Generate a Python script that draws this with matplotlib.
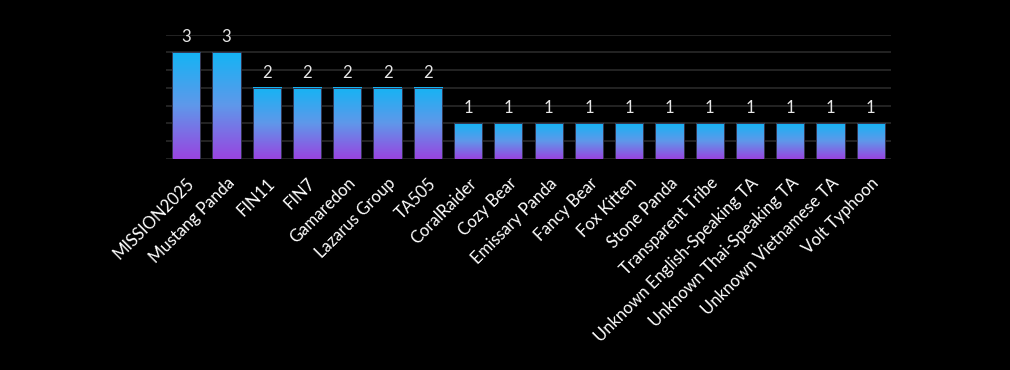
import numpy as np
import matplotlib
matplotlib.use("Agg")
import matplotlib.pyplot as plt
from matplotlib.colors import LinearSegmentedColormap

actors = ["MISSION2025", "Mustang Panda", "FIN11", "FIN7", "Gamaredon",
          "Lazarus Group", "TA505", "CoralRaider", "Cozy Bear", "Emissary Panda",
          "Fancy Bear", "Fox Kitten", "Stone Panda", "Transparent Tribe",
          "Unknown English-Speaking TA", "Unknown Thai-Speaking TA",
          "Unknown Vietnamese TA", "Volt Typhoon"]
counts = [3, 3, 2, 2, 2, 2, 2, 1, 1, 1, 1, 1, 1, 1, 1, 1, 1, 1]

plt.rcParams['font.family'] = ['Lato', 'DejaVu Sans']

# degradado de arriba (cian) hacia abajo (morado)
grad = LinearSegmentedColormap.from_list("grad", ["#9944e0", "#5f98ea", "#14b4f4"])

fig = plt.figure(figsize=(10.1, 3.7), dpi=100, facecolor="black")
ax = fig.add_axes([166/1010, 1 - 159/370, 725/1010, 124.5/370])
ax.set_facecolor("black")

x = np.arange(len(actors))
ancho = 0.7
barras = ax.bar(x, counts, width=ancho, color="none", edgecolor="none", zorder=3)

columna = np.linspace(0, 1, 256).reshape(-1, 1)
for b in barras:
    x0, y0 = b.get_x(), b.get_y()
    w, h = b.get_width(), b.get_height()
    ax.imshow(columna, cmap=grad, origin="lower", aspect="auto",
              extent=[x0, x0 + w, y0, y0 + h], zorder=3)
    ax.add_patch(plt.Rectangle((x0, y0), w, h, fill=False,
                               edgecolor="#34344e", linewidth=0.7, zorder=4))

for xi, v in zip(x, counts):
    ax.text(xi, v + 0.2, str(v), ha="center", va="bottom", color="#e6e6e6",
            fontsize=12)

ax.set_xlim(-0.5, len(actors) - 0.5)
ax.set_ylim(0, 3.5)
ax.set_yticks(np.arange(0, 3.51, 0.5))
ax.yaxis.grid(True, color="#262626", linewidth=1.3, zorder=0)
ax.set_axisbelow(True)
ax.tick_params(axis="y", left=False, labelleft=False)
ax.tick_params(axis="x", bottom=False, colors="white", pad=8)
ax.set_xticks(x)
ax.set_xticklabels(actors, rotation=45, ha="right", rotation_mode="anchor",
                   fontsize=12, color="white")
for s in ax.spines.values():
    s.set_visible(False)

fig.savefig("out.png", dpi=100, facecolor="black")
